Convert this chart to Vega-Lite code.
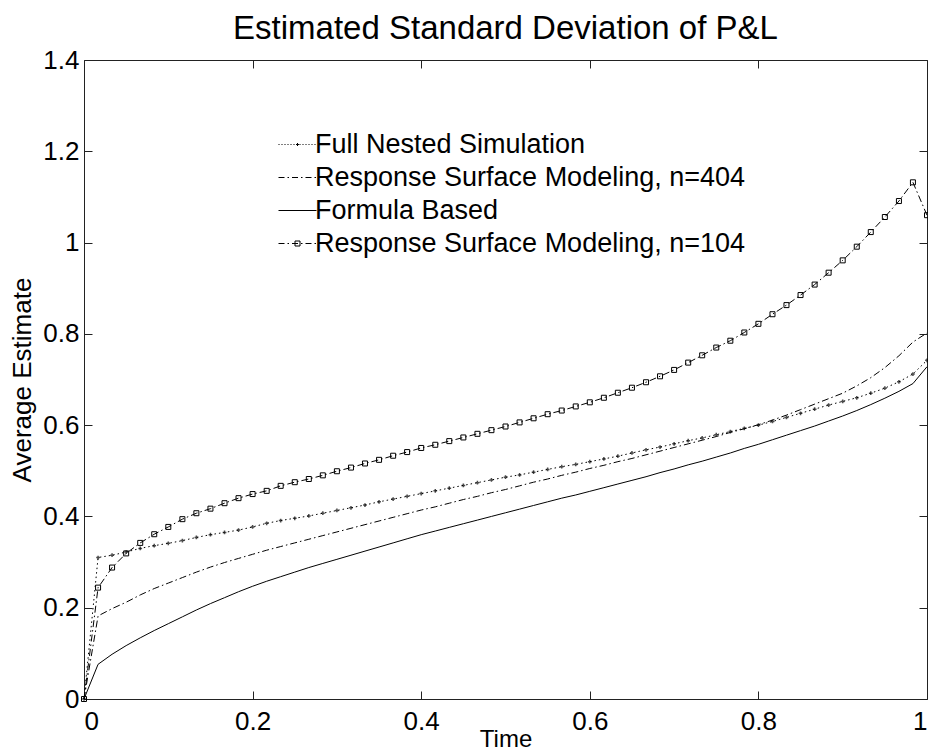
{
 "$schema": "https://vega.github.io/schema/vega-lite/v6.json",
 "width": 843, "height": 639,
 "autosize": {"type": "none"},
 "padding": {"left": 84, "top": 60, "right": 1, "bottom": 56},
 "background": "white",
 "title": {"text": "Estimated Standard Deviation of P&L", "fontSize": 33, "font": "Liberation Sans", "fontWeight": "normal", "color": "black", "offset": -25, "baseline": "alphabetic", "anchor": "middle"},
 "config": {
  "view": {"stroke": null},
  "axis": {"grid": false, "domainColor": "#222", "tickColor": "#222", "labelColor": "black", "labelFont": "Liberation Sans", "labelFontSize": 26, "titleFont": "Liberation Sans", "titleFontSize": 26, "titleFontWeight": "normal", "titleColor": "black", "tickSize": -8, "domainWidth": 1, "tickWidth": 1},
  "legend": {"orient": "none", "legendX": 191, "legendY": 71, "labelFont": "Liberation Sans", "labelFontSize": 27, "labelColor": "black", "labelLimit": 700, "symbolSize": 400, "symbolStrokeColor": "black", "symbolStrokeWidth": 1, "symbolFillColor": "transparent", "symbolOffset": 9, "labelOffset": 4, "rowPadding": 5, "padding": 0}
 },
 "data": {"values": [
  {"t": 0, "fns": 0, "r404": 0, "fb": 0, "r104": 0},
  {"t": 0.0167, "fns": 0.310, "r404": 0.182, "fb": 0.076, "r104": 0.244},
  {"t": 0.0333, "fns": 0.315, "r404": 0.198, "fb": 0.098, "r104": 0.288},
  {"t": 0.05, "fns": 0.322, "r404": 0.212, "fb": 0.117, "r104": 0.319},
  {"t": 0.0667, "fns": 0.330, "r404": 0.228, "fb": 0.134, "r104": 0.342},
  {"t": 0.0833, "fns": 0.336, "r404": 0.242, "fb": 0.150, "r104": 0.361},
  {"t": 0.1, "fns": 0.341, "r404": 0.254, "fb": 0.165, "r104": 0.377},
  {"t": 0.1167, "fns": 0.347, "r404": 0.266, "fb": 0.180, "r104": 0.394},
  {"t": 0.1333, "fns": 0.354, "r404": 0.278, "fb": 0.195, "r104": 0.407},
  {"t": 0.15, "fns": 0.360, "r404": 0.289, "fb": 0.209, "r104": 0.417},
  {"t": 0.1667, "fns": 0.365, "r404": 0.299, "fb": 0.222, "r104": 0.429},
  {"t": 0.1833, "fns": 0.370, "r404": 0.308, "fb": 0.235, "r104": 0.440},
  {"t": 0.2, "fns": 0.377, "r404": 0.317, "fb": 0.247, "r104": 0.449},
  {"t": 0.2167, "fns": 0.385, "r404": 0.326, "fb": 0.258, "r104": 0.456},
  {"t": 0.2333, "fns": 0.391, "r404": 0.334, "fb": 0.268, "r104": 0.467},
  {"t": 0.25, "fns": 0.396, "r404": 0.342, "fb": 0.278, "r104": 0.475},
  {"t": 0.2667, "fns": 0.401, "r404": 0.350, "fb": 0.288, "r104": 0.482},
  {"t": 0.2833, "fns": 0.407, "r404": 0.358, "fb": 0.297, "r104": 0.490},
  {"t": 0.3, "fns": 0.413, "r404": 0.366, "fb": 0.306, "r104": 0.499},
  {"t": 0.3167, "fns": 0.419, "r404": 0.374, "fb": 0.315, "r104": 0.507},
  {"t": 0.3333, "fns": 0.425, "r404": 0.382, "fb": 0.324, "r104": 0.516},
  {"t": 0.35, "fns": 0.432, "r404": 0.390, "fb": 0.333, "r104": 0.524},
  {"t": 0.3667, "fns": 0.438, "r404": 0.398, "fb": 0.342, "r104": 0.533},
  {"t": 0.3833, "fns": 0.444, "r404": 0.406, "fb": 0.351, "r104": 0.541},
  {"t": 0.4, "fns": 0.450, "r404": 0.414, "fb": 0.360, "r104": 0.550},
  {"t": 0.4167, "fns": 0.456, "r404": 0.421, "fb": 0.368, "r104": 0.557},
  {"t": 0.4333, "fns": 0.462, "r404": 0.429, "fb": 0.376, "r104": 0.565},
  {"t": 0.45, "fns": 0.468, "r404": 0.437, "fb": 0.384, "r104": 0.573},
  {"t": 0.4667, "fns": 0.474, "r404": 0.444, "fb": 0.392, "r104": 0.581},
  {"t": 0.4833, "fns": 0.480, "r404": 0.452, "fb": 0.400, "r104": 0.589},
  {"t": 0.5, "fns": 0.486, "r404": 0.459, "fb": 0.408, "r104": 0.597},
  {"t": 0.5167, "fns": 0.491, "r404": 0.467, "fb": 0.416, "r104": 0.606},
  {"t": 0.5333, "fns": 0.497, "r404": 0.475, "fb": 0.424, "r104": 0.615},
  {"t": 0.55, "fns": 0.503, "r404": 0.482, "fb": 0.432, "r104": 0.624},
  {"t": 0.5667, "fns": 0.509, "r404": 0.490, "fb": 0.440, "r104": 0.632},
  {"t": 0.5833, "fns": 0.514, "r404": 0.497, "fb": 0.447, "r104": 0.641},
  {"t": 0.6, "fns": 0.520, "r404": 0.505, "fb": 0.455, "r104": 0.650},
  {"t": 0.6167, "fns": 0.526, "r404": 0.512, "fb": 0.463, "r104": 0.660},
  {"t": 0.6333, "fns": 0.532, "r404": 0.520, "fb": 0.471, "r104": 0.671},
  {"t": 0.65, "fns": 0.539, "r404": 0.527, "fb": 0.479, "r104": 0.682},
  {"t": 0.6667, "fns": 0.546, "r404": 0.535, "fb": 0.487, "r104": 0.694},
  {"t": 0.6833, "fns": 0.552, "r404": 0.543, "fb": 0.496, "r104": 0.707},
  {"t": 0.7, "fns": 0.559, "r404": 0.551, "fb": 0.504, "r104": 0.721},
  {"t": 0.7167, "fns": 0.566, "r404": 0.559, "fb": 0.513, "r104": 0.737},
  {"t": 0.7333, "fns": 0.572, "r404": 0.567, "fb": 0.521, "r104": 0.753},
  {"t": 0.75, "fns": 0.579, "r404": 0.575, "fb": 0.530, "r104": 0.770},
  {"t": 0.7667, "fns": 0.586, "r404": 0.584, "fb": 0.539, "r104": 0.785},
  {"t": 0.7833, "fns": 0.593, "r404": 0.592, "fb": 0.549, "r104": 0.803},
  {"t": 0.8, "fns": 0.600, "r404": 0.601, "fb": 0.558, "r104": 0.822},
  {"t": 0.8167, "fns": 0.608, "r404": 0.611, "fb": 0.568, "r104": 0.843},
  {"t": 0.8333, "fns": 0.617, "r404": 0.622, "fb": 0.578, "r104": 0.863},
  {"t": 0.85, "fns": 0.626, "r404": 0.634, "fb": 0.588, "r104": 0.885},
  {"t": 0.8667, "fns": 0.635, "r404": 0.646, "fb": 0.598, "r104": 0.908},
  {"t": 0.8833, "fns": 0.644, "r404": 0.658, "fb": 0.609, "r104": 0.934},
  {"t": 0.9, "fns": 0.652, "r404": 0.670, "fb": 0.620, "r104": 0.961},
  {"t": 0.9167, "fns": 0.660, "r404": 0.686, "fb": 0.632, "r104": 0.991},
  {"t": 0.9333, "fns": 0.670, "r404": 0.704, "fb": 0.645, "r104": 1.023},
  {"t": 0.95, "fns": 0.681, "r404": 0.726, "fb": 0.659, "r104": 1.056},
  {"t": 0.9667, "fns": 0.695, "r404": 0.752, "fb": 0.674, "r104": 1.091},
  {"t": 0.9833, "fns": 0.712, "r404": 0.782, "fb": 0.691, "r104": 1.132},
  {"t": 1, "fns": 0.742, "r404": 0.802, "fb": 0.728, "r104": 1.06}
 ]},
 "layer": [
  {"mark": {"type": "line", "color": "black", "strokeWidth": 1, "strokeDash": [1.5, 3]},
   "encoding": {
    "x": {"field": "t", "type": "quantitative", "scale": {"domain": [0, 1], "nice": false, "zero": false},
          "axis": {"orient": "bottom", "values": [0, 0.2, 0.4, 0.6, 0.8, 1], "format": "~g", "title": "Time", "titleFontSize": 24, "labelPadding": 17, "titlePadding": -7}},
    "y": {"field": "fns", "type": "quantitative", "scale": {"domain": [0, 1.4], "nice": false},
          "axis": {"orient": "left", "values": [0, 0.2, 0.4, 0.6, 0.8, 1, 1.2, 1.4], "format": "~g", "title": "Average Estimate", "labelPadding": 13, "titlePadding": 7}}
   }},
  {"mark": {"type": "point", "shape": "cross", "filled": true, "color": "black", "size": 14},
   "encoding": {
    "x": {"field": "t", "type": "quantitative", "axis": null},
    "y": {"field": "fns", "type": "quantitative", "axis": null}
   }},
  {"mark": {"type": "line", "color": "black", "strokeWidth": 1, "strokeDash": [7, 3, 1.5, 3]},
   "encoding": {
    "x": {"field": "t", "type": "quantitative", "axis": null},
    "y": {"field": "r404", "type": "quantitative", "axis": null}
   }},
  {"mark": {"type": "line", "color": "black", "strokeWidth": 1},
   "encoding": {
    "x": {"field": "t", "type": "quantitative",
          "axis": {"orient": "top", "values": [0, 0.2, 0.4, 0.6, 0.8, 1], "labels": false, "title": null}},
    "y": {"field": "fb", "type": "quantitative",
          "axis": {"orient": "right", "values": [0, 0.2, 0.4, 0.6, 0.8, 1, 1.2, 1.4], "labels": false, "title": null}}
   }},
  {"mark": {"type": "line", "color": "black", "strokeWidth": 1, "strokeDash": [7, 3, 1.5, 3]},
   "encoding": {
    "x": {"field": "t", "type": "quantitative", "axis": null},
    "y": {"field": "r104", "type": "quantitative", "axis": null}
   }},
  {"mark": {"type": "point", "shape": "square", "filled": false, "color": "black", "size": 25, "strokeWidth": 1, "opacity": 1},
   "encoding": {
    "x": {"field": "t", "type": "quantitative", "axis": null},
    "y": {"field": "r104", "type": "quantitative", "axis": null}
   }},
  {"transform": [{"filter": "false"}],
   "mark": {"type": "point", "filled": false, "color": "black", "strokeWidth": 1, "opacity": 1},
   "encoding": {
    "shape": {"field": "series", "type": "nominal",
      "scale": {"domain": ["Full Nested Simulation", "Response Surface Modeling, n=404", "Formula Based", "Response Surface Modeling, n=104"],
                "range": ["M-1.9,0H-1.8M-1.6,0H-1.5M-1.3,0H-1.2M-1,0H-0.9M-0.7,0H-0.6M-0.4,0H-0.3M-0.1,0H0M0.2,0H0.3M0.5,0H0.6M0.8,0H0.9M1.1,0H1.2M1.4,0H1.5M1.7,0H1.8M-0.15,0H0.15M0,-0.15V0.15",
                          "M-1.9,0H-1.3M-1,0H-0.85M-0.55,0H0.05M0.35,0H0.5M0.8,0H1.4M1.7,0H1.85",
                          "M-1.9,0H1.9",
                          "M-1.9,0H-1.3M-1,0H-0.85M-0.55,0H0.05M0.35,0H0.5M0.8,0H1.4M1.7,0H1.85M-0.25,-0.25H0.25V0.25H-0.25Z"]},
      "legend": {"title": null}}
   }}
 ],
 "resolve": {"axis": {"x": "independent", "y": "independent"}}
}
